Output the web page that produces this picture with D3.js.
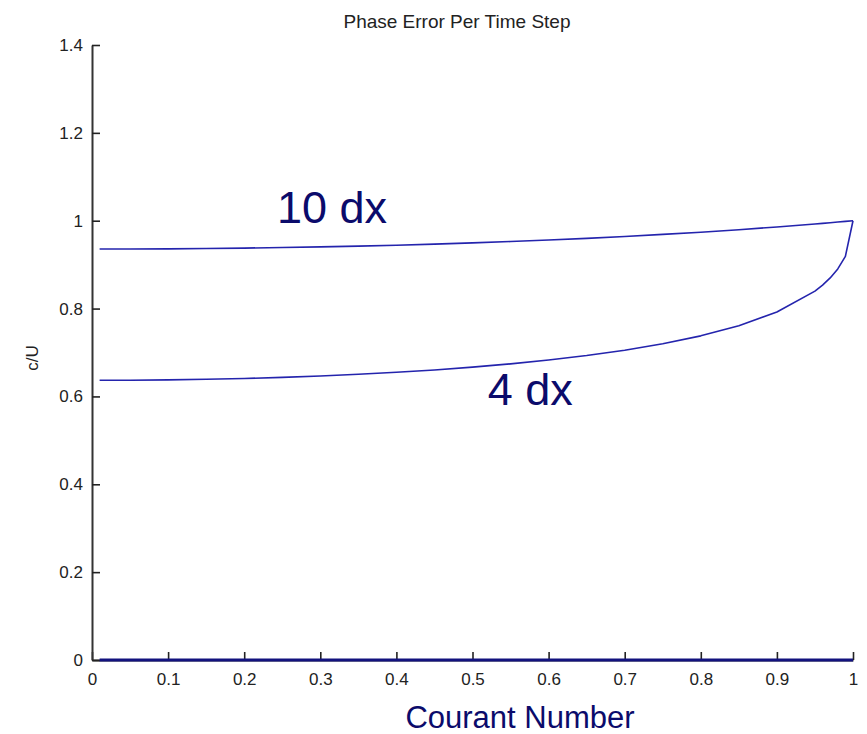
<!DOCTYPE html>
<html>
<head>
<meta charset="utf-8">
<script src="https://cdn.jsdelivr.net/npm/d3@7"></script>
<style>
  html, body { margin: 0; padding: 0; background: #fff; }
  svg { display: block; }
</style>
</head>
<body>
<svg id="chart" width="867" height="734"></svg>
<script>
// ---- data ----
const courant = [0.01, 0.05, 0.10, 0.15, 0.20, 0.25, 0.30, 0.35, 0.40, 0.45, 0.50,
                 0.55, 0.60, 0.65, 0.70, 0.75, 0.80, 0.85, 0.90, 0.95, 0.96, 0.97, 0.98, 0.99, 1.00];
const phase10dx = [0.9355, 0.9356, 0.9360, 0.9368, 0.9377, 0.9389, 0.9404, 0.9422, 0.9443, 0.9468, 0.9495,
                   0.9526, 0.9561, 0.9599, 0.9641, 0.9688, 0.9739, 0.9796, 0.9858, 0.9926, 0.9940, 0.9955, 0.9970, 0.9985, 1.0000];
const phase4dx = [0.6367, 0.6369, 0.6377, 0.6390, 0.6409, 0.6434, 0.6466, 0.6504, 0.6549, 0.6603, 0.6667,
                  0.6741, 0.6828, 0.6930, 0.7052, 0.7198, 0.7379, 0.7609, 0.7921, 0.8398, 0.8535, 0.8697, 0.8903, 0.9189, 1.0000];
const phase2dx = [0, 0, 0, 0, 0, 0, 0, 0, 0, 0, 0,
                  0, 0, 0, 0, 0, 0, 0, 0, 0, 0, 0, 0, 0, 0];
const xTicks = [0, 0.1, 0.2, 0.3, 0.4, 0.5, 0.6, 0.7, 0.8, 0.9, 1];
const yTicks = [0, 0.2, 0.4, 0.6, 0.8, 1, 1.2, 1.4];
const labels = [
  { text: "10 dx", x: 0.243, y: 0.995 },
  { text: "4 dx",  x: 0.52,  y: 0.58 }
];

// ---- drawing ----
const svg = d3.select("#chart");
const x = d3.scaleLinear().domain([0, 1]).range([92, 853]);
const y = d3.scaleLinear().domain([0, 1.4]).range([660, 45]);
const fmt = d3.format("~g");

const gx = svg.append("g").attr("transform", `translate(0,${y(0)})`)
  .call(d3.axisBottom(x).tickValues(xTicks).tickFormat(fmt).tickSizeInner(-8).tickSizeOuter(0).tickPadding(13));
const gy = svg.append("g").attr("transform", `translate(${x(0)},0)`)
  .call(d3.axisLeft(y).tickValues(yTicks).tickFormat(fmt).tickSizeInner(-8).tickSizeOuter(0).tickPadding(9));

[gx, gy].forEach(g => {
  g.select(".domain").attr("stroke", "#333").attr("stroke-width", 2);
  g.selectAll(".tick line").attr("stroke", "#222").attr("stroke-width", 1.6);
  g.selectAll(".tick text").attr("fill", "#222")
    .style("font-family", "'Liberation Sans', Arial, sans-serif").style("font-size", "17px");
});

const line = d3.line().x(d => x(d[0])).y(d => y(d[1]));
const series = [
  { vals: phase10dx, color: "#2424ad", w: 1.6 },
  { vals: phase4dx,  color: "#2424ad", w: 1.6 },
  { vals: phase2dx,  color: "#12127e", w: 3.2 }
];
series.forEach(s => {
  svg.append("path")
    .datum(courant.map((c, i) => [c, s.vals[i]]))
    .attr("d", line)
    .attr("fill", "none")
    .attr("stroke", s.color)
    .attr("stroke-width", s.w)
    .attr("stroke-linejoin", "round");
});

// series labels
svg.selectAll("text.series").data(labels).enter().append("text")
  .attr("class", "series")
  .attr("x", d => x(d.x)).attr("y", d => y(d.y))
  .attr("fill", "#0b0b6b")
  .style("font-family", "'Liberation Sans', Arial, sans-serif")
  .style("font-size", "45px")
  .text(d => d.text);

// title
svg.append("text")
  .attr("x", 457).attr("y", 28)
  .attr("text-anchor", "middle")
  .attr("fill", "#222")
  .style("font-family", "'Liberation Sans', Arial, sans-serif")
  .style("font-size", "19px")
  .text("Phase Error Per Time Step");

// x-axis title
svg.append("text")
  .attr("x", 520).attr("y", 728)
  .attr("text-anchor", "middle")
  .attr("fill", "#0b0b6b")
  .style("font-family", "'Liberation Sans', Arial, sans-serif")
  .style("font-size", "31px")
  .text("Courant Number");

// y-axis title
svg.append("text")
  .attr("transform", "translate(38,358) rotate(-90)")
  .attr("text-anchor", "middle")
  .attr("fill", "#222")
  .style("font-family", "'Liberation Sans', Arial, sans-serif")
  .style("font-size", "17px")
  .text("c/U");
</script>
</body>
</html>
